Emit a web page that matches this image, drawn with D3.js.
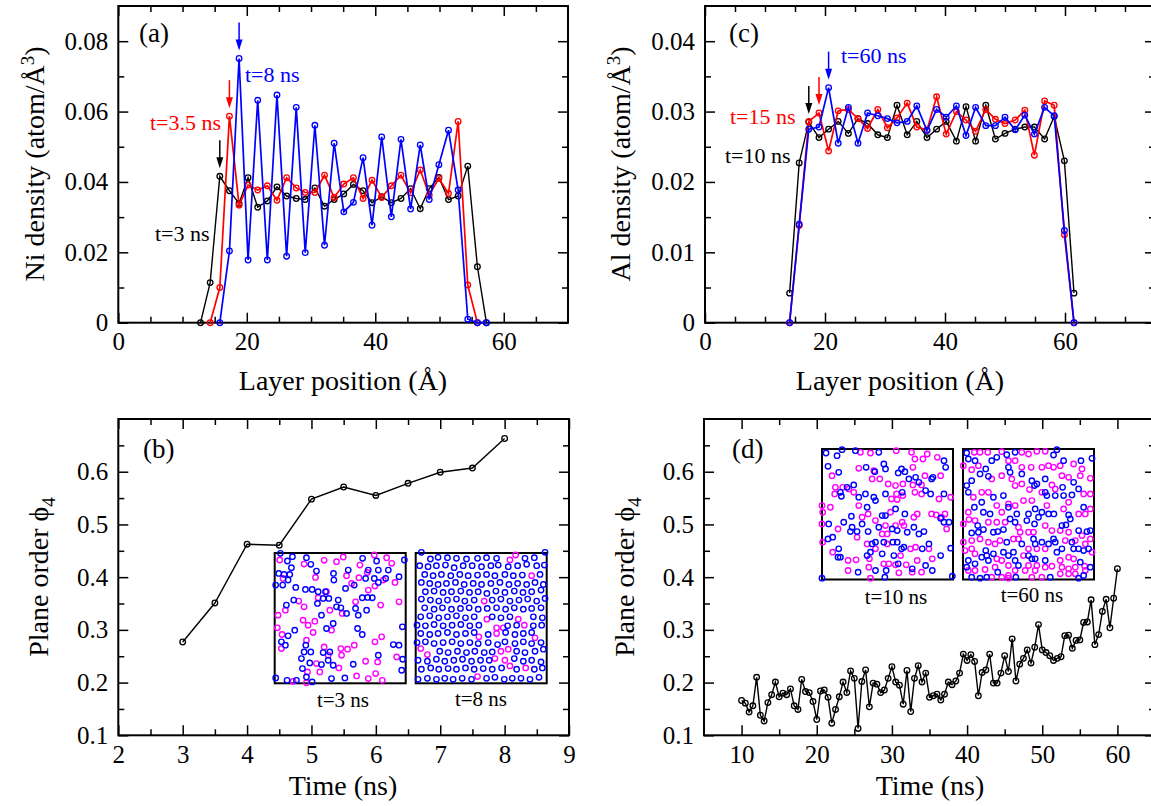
<!DOCTYPE html>
<html>
<head>
<meta charset="utf-8">
<script src="https://cdn.jsdelivr.net/npm/d3@7"></script>
<style>
  body { margin: 0; background: #fff; }
  svg { display: block; font-family: "Liberation Serif", "Times New Roman", serif; }
</style>
</head>
<body>
<svg width="1151" height="806"></svg>
<script>
// ---------- data ----------
// (a) Ni density profiles
const niX = [12.8, 14.3, 15.8, 17.3, 18.8, 20.2, 21.7, 23.2, 24.7, 26.2, 27.7, 29.1, 30.6, 32.1, 33.6, 35.1,
  36.6, 38.1, 39.5, 41.0, 42.5, 44.0, 45.5, 47.0, 48.4, 49.9, 51.4, 52.9, 54.4, 55.9, 57.3];
const niT3 = [0, 0.0114, 0.0416, 0.0375, 0.0339, 0.0412, 0.0328, 0.0346, 0.0386, 0.0360, 0.0353, 0.0350, 0.0383,
  0.0331, 0.0350, 0.0366, 0.0393, 0.0375, 0.0341, 0.0358, 0.0341, 0.0353, 0.0381, 0.0324, 0.0381, 0.0413,
  0.0350, 0.0360, 0.0445, 0.0159, 0];
const niT35 = [null, 0, 0.0100, 0.0587, 0.0334, 0.0391, 0.0377, 0.0389, 0.0348, 0.0412, 0.0383, 0.0370, 0.0370,
  0.0419, 0.0356, 0.0394, 0.0412, 0.0353, 0.0405, 0.0356, 0.0389, 0.0419, 0.0369, 0.0434, 0.0363, 0.0410,
  0.0367, 0.0572, 0.0107, 0, null];
const niT8 = [null, null, 0, 0.0204, 0.0751, 0.0178, 0.0632, 0.0178, 0.0647, 0.0189, 0.0612, 0.0199, 0.0561,
  0.0220, 0.0510, 0.0315, 0.0342, 0.0469, 0.0277, 0.0528, 0.0301, 0.0521, 0.0323, 0.0505, 0.0350, 0.0449,
  0.0547, 0.0377, 0.0010, 0, 0];

// (c) Al density profiles
const alX = [14.1, 15.7, 17.3, 19.0, 20.6, 22.2, 23.9, 25.5, 27.1, 28.8, 30.4, 32.0, 33.7, 35.3, 37.0, 38.6,
  40.2, 41.9, 43.5, 45.1, 46.8, 48.4, 50.0, 51.7, 53.3, 54.9, 56.6, 58.2, 59.9, 61.5];
const alT10 = [0.0042, 0.0227, 0.0285, 0.0263, 0.0275, 0.0286, 0.0269, 0.0290, 0.0283, 0.0267, 0.0263, 0.0309,
  0.0267, 0.0286, 0.0263, 0.0275, 0.0286, 0.0258, 0.0307, 0.0258, 0.0309, 0.0261, 0.0269, 0.0275, 0.0278,
  0.0278, 0.0261, 0.0293, 0.0230, 0.0042];
const alT15 = [0, 0.0138, 0.0286, 0.0298, 0.0244, 0.0301, 0.0303, 0.0290, 0.0276, 0.0303, 0.0277, 0.0291,
  0.0312, 0.0278, 0.0274, 0.0321, 0.0268, 0.0300, 0.0288, 0.0272, 0.0303, 0.0289, 0.0283, 0.0288, 0.0302,
  0.0238, 0.0315, 0.0309, 0.0125, 0];
const alT60 = [0, 0.0140, 0.0275, 0.0278, 0.0334, 0.0255, 0.0306, 0.0255, 0.0298, 0.0294, 0.0290, 0.0284,
  0.0286, 0.0308, 0.0273, 0.0303, 0.0292, 0.0308, 0.0266, 0.0306, 0.0280, 0.0280, 0.0292, 0.0274, 0.0295,
  0.0268, 0.0306, 0.0294, 0.0131, 0];

// (b) plane order vs time, Ni
const timeB = [3, 3.5, 4, 4.5, 5, 5.5, 6, 6.5, 7, 7.5, 8];
const phiB = [0.277, 0.351, 0.4625, 0.4605, 0.548, 0.571, 0.555, 0.578, 0.599, 0.607, 0.663];

// (d) plane order vs time, Al
const timeD = [10, 10.5, 11, 11.5, 12, 12.5, 13, 13.5, 14, 14.5, 15, 15.5, 16, 16.5, 17, 17.5, 18, 18.5, 19, 19.5,
  20, 20.5, 21, 21.5, 22, 22.5, 23, 23.5, 24, 24.5, 25, 25.5, 26, 26.5, 27, 27.5, 28, 28.5, 29, 29.5,
  30, 30.5, 31, 31.5, 32, 32.5, 33, 33.5, 34, 34.5, 35, 35.5, 36, 36.5, 37, 37.5, 38, 38.5, 39, 39.5,
  40, 40.5, 41, 41.5, 42, 42.5, 43, 43.5, 44, 44.5, 45, 45.5, 46, 46.5, 47, 47.5, 48, 48.5, 49, 49.5,
  50, 50.5, 51, 51.5, 52, 52.5, 53, 53.5, 54, 54.5, 55, 55.5, 56, 56.5, 57, 57.5, 58, 58.5, 59, 59.5, 60];
const phiD = [0.166, 0.161, 0.144, 0.156, 0.210, 0.138, 0.127, 0.162, 0.177, 0.201, 0.173, 0.180, 0.177, 0.188,
  0.156, 0.149, 0.206, 0.183, 0.181, 0.164, 0.130, 0.184, 0.186, 0.172, 0.123, 0.149, 0.173, 0.201, 0.181,
  0.222, 0.208, 0.113, 0.202, 0.224, 0.154, 0.199, 0.197, 0.181, 0.186, 0.208, 0.230, 0.201, 0.195, 0.159,
  0.223, 0.145, 0.208, 0.232, 0.201, 0.218, 0.172, 0.175, 0.178, 0.167, 0.178, 0.201, 0.196, 0.203, 0.218,
  0.254, 0.242, 0.253, 0.240, 0.175, 0.219, 0.224, 0.254, 0.199, 0.199, 0.218, 0.251, 0.221, 0.283, 0.203,
  0.235, 0.246, 0.262, 0.237, 0.267, 0.310, 0.262, 0.257, 0.251, 0.242, 0.246, 0.249, 0.289, 0.290, 0.265,
  0.280, 0.281, 0.314, 0.315, 0.357, 0.272, 0.291, 0.335, 0.358, 0.304, 0.360, 0.416];

// tick values / labels
const niXTicks = [0, 20, 40, 60], niXLabels = ['0', '20', '40', '60'];
const niXMinor = [5, 10, 15, 25, 30, 35, 45, 50, 55, 65];
const niYTicks = [0, 0.02, 0.04, 0.06, 0.08], niYLabels = ['0', '0.02', '0.04', '0.06', '0.08'];
const niYMinor = [0.01, 0.03, 0.05, 0.07];
const alXTicks = [0, 20, 40, 60], alXLabels = ['0', '20', '40', '60'];
const alXMinor = [5, 10, 15, 25, 30, 35, 45, 50, 55, 65, 70];
const alYTicks = [0, 0.01, 0.02, 0.03, 0.04], alYLabels = ['0', '0.01', '0.02', '0.03', '0.04'];
const alYMinor = [0.005, 0.015, 0.025, 0.035];
const bXTicks = [2, 3, 4, 5, 6, 7, 8, 9], bXLabels = ['2', '3', '4', '5', '6', '7', '8', '9'];
const bXMinor = [2.5, 3.5, 4.5, 5.5, 6.5, 7.5, 8.5];
const dXTicks = [10, 20, 30, 40, 50, 60], dXLabels = ['10', '20', '30', '40', '50', '60'];
const dXMinor = [15, 25, 35, 45, 55];
const phiTicks = [0.1, 0.2, 0.3, 0.4, 0.5, 0.6], phiLabels = ['0.1', '0.2', '0.3', '0.4', '0.5', '0.6'];
const phiMinor = [0.15, 0.25, 0.35, 0.45, 0.55, 0.65];

// inset snapshots (atom positions in inset units), blue = Ni plane sites, magenta = other
const b3Blue = [[17,1],[38,24],[53,11],[50,44],[95,14],[108,34],[125,54],[176,61],[177,81],[220,51],[263,16],
  [280,51],[305,24],[310,51],[340,51],[388,21],[12,61],[28,64],[45,64],[40,81],[24,96],[3,96],[63,103],[92,109],
  [112,109],[130,116],[145,136],[162,136],[152,116],[190,141],[212,106],[238,96],[272,76],[298,76],[310,88],
  [332,76],[372,71],[57,141],[35,156],[128,151],[185,161],[198,164],[215,181],[242,166],[250,186],[262,134],
  [278,133],[292,134],[275,171],[140,186],[175,211],[155,226],[248,226],[262,244],[40,248],[60,231],[20,266],
  [32,276],[93,276],[88,296],[108,296],[145,298],[165,296],[310,306],[355,274],[372,276],[382,221],[80,316],
  [105,329],[160,321],[235,333],[83,346],[140,334],[175,336],[95,371],[170,376],[210,374],[380,351],[383,318],
  [3,374],[37,381],[112,386],[65,381]];
const b3Mag = [[15,21],[88,33],[148,22],[185,26],[205,12],[255,36],[298,6],[335,14],[350,31],[25,76],[122,73],
  [215,68],[230,91],[252,74],[277,58],[300,99],[360,88],[325,81],[280,111],[155,116],[130,134],[72,144],[88,161],
  [165,171],[202,181],[242,146],[317,156],[372,146],[10,186],[32,171],[85,201],[100,216],[120,204],[170,231],
  [8,224],[22,244],[115,238],[95,261],[20,286],[148,281],[160,306],[198,286],[218,288],[200,306],[238,276],
  [300,266],[320,251],[365,311],[272,324],[308,326],[125,331],[98,356],[135,356],[192,344],[245,368],[280,376],
  [302,361],[322,381],[55,384],[95,388]];
const b8Blue = [[17,-2],[44,18],[67,13],[95,14],[122,16],[152,18],[185,16],[212,14],[242,16],[327,16],[355,14],
  [387,-2],[12,38],[37,41],[62,38],[89,36],[115,44],[142,38],[169,38],[197,41],[225,38],[247,36],[277,41],
  [305,38],[332,34],[362,38],[385,36],[27,64],[52,68],[77,64],[105,68],[132,64],[157,68],[185,66],[212,64],
  [237,68],[267,64],[292,68],[319,66],[372,64],[17,88],[42,91],[67,94],[92,91],[119,88],[145,94],[172,91],
  [197,94],[225,91],[252,88],[279,94],[305,91],[332,94],[357,88],[382,94],[29,116],[55,114],[82,118],[107,116],
  [135,114],[161,118],[187,116],[213,121],[240,114],[267,118],[295,114],[321,118],[347,116],[375,111],[17,138],
  [44,141],[69,144],[95,141],[122,138],[147,144],[175,141],[229,141],[255,138],[282,144],[309,141],[335,138],
  [362,144],[387,136],[27,164],[55,168],[80,164],[107,168],[134,166],[160,164],[187,168],[214,166],[242,164],
  [269,168],[295,164],[322,168],[347,166],[375,164],[15,191],[42,188],[69,194],[95,191],[122,188],[149,194],
  [175,191],[229,191],[255,194],[282,191],[352,191],[379,194],[4,216],[29,218],[55,214],[82,218],[109,216],
  [135,214],[162,218],[189,216],[275,218],[302,216],[352,218],[377,216],[15,241],[42,244],[67,241],[95,238],
  [122,244],[149,241],[175,238],[217,244],[269,238],[297,244],[322,241],[347,238],[4,268],[29,266],[55,271],
  [82,268],[109,266],[135,271],[162,268],[187,271],[217,268],[245,274],[267,266],[297,271],[322,266],[347,271],
  [375,268],[72,294],[97,298],[125,294],[152,298],[177,294],[205,298],[229,296],[302,294],[327,298],[357,294],
  [382,288],[7,321],[35,324],[62,318],[87,324],[114,321],[140,318],[167,324],[194,321],[220,321],[295,316],
  [322,324],[347,321],[375,326],[17,348],[45,344],[69,348],[97,346],[122,348],[149,344],[175,348],[202,346],
  [229,348],[257,344],[302,348],[355,348],[379,344],[7,378],[35,375],[62,378],[87,375],[112,378],[139,375],
  [167,378],[212,375],[237,372],[265,378],[289,375],[315,375],[342,378],[369,372]];
const b8Mag = [[299,6],[282,21],[347,68],[205,144],[213,198],[307,198],[242,224],[262,224],[325,216],[189,251],
  [242,241],[357,254],[15,286],[35,304],[255,294],[277,288],[237,316],[267,321],[282,338],[329,344],[185,370]];
const d10Blue = [[32,32],[65,40],[80,22],[120,25],[152,75],[190,30],[205,65],[210,80],[38,72],[70,90],[178,88],
  [248,92],[268,88],[258,80],[280,110],[300,105],[310,120],[348,110],[352,105],[385,55],[390,75],[330,145],
  [345,155],[385,155],[115,128],[95,135],[75,150],[78,162],[130,165],[150,155],[175,165],[180,175],[210,155],
  [260,150],[155,195],[240,200],[268,215],[200,220],[210,220],[108,222],[85,240],[40,245],[38,290],[52,285],
  [105,268],[125,268],[110,255],[140,245],[158,268],[190,255],[230,260],[245,265],[275,270],[295,255],[310,275],
  [325,268],[232,300],[245,300],[265,315],[320,320],[340,305],[375,228],[385,240],[400,240],[170,305],[180,300],
  [165,330],[155,340],[70,320],[68,345],[75,345],[200,335],[205,300],[235,340],[248,365],[258,320],[330,370],
  [375,340],[405,318],[180,385],[212,385],[128,390],[208,405],[20,408],[410,402],[290,380],[350,385]];
const d10Mag = [[135,30],[165,32],[130,78],[175,85],[242,25],[288,30],[298,50],[292,75],[322,50],[335,35],
  [365,45],[375,100],[405,165],[50,100],[60,135],[58,155],[82,135],[100,140],[115,150],[170,110],[193,110],
  [218,125],[240,130],[262,125],[292,128],[318,128],[328,100],[243,155],[262,160],[228,170],[245,172],[298,150],
  [318,155],[370,170],[20,190],[45,195],[22,210],[130,190],[158,215],[180,235],[225,210],[260,240],[265,250],
  [210,250],[240,250],[295,225],[305,215],[348,215],[362,218],[388,215],[393,260],[20,245],[68,260],[140,225],
  [22,300],[52,330],[125,285],[155,305],[180,320],[215,275],[200,275],[215,305],[255,340],[285,320],[300,315],
  [305,355],[340,320],[350,350],[98,355],[122,353],[162,350],[160,375],[205,365],[220,365],[240,368],[272,368],
  [290,390],[318,390],[98,385],[165,408],[250,392],[378,225]];
const d60Blue = [[455,32],[460,50],[480,55],[470,115],[455,130],[495,95],[512,80],[520,102],[530,55],[545,45],
  [575,37],[600,30],[580,75],[585,90],[620,95],[650,115],[658,130],[665,125],[690,110],[715,38],[725,22],[745,55],
  [797,55],[830,48],[790,140],[775,120],[742,135],[770,158],[805,195],[720,160],[745,160],[695,160],[690,150],
  [680,210],[660,200],[640,215],[605,215],[580,195],[565,160],[535,165],[500,180],[525,215],[505,210],[460,150],
  [478,195],[488,250],[470,272],[490,270],[505,262],[535,270],[548,268],[565,262],[585,230],[600,240],[635,235],
  [658,245],[670,225],[700,215],[716,215],[740,250],[752,248],[765,230],[760,218],[790,265],[815,268],[825,265],
  [775,320],[790,320],[805,325],[820,320],[740,320],[770,300],[720,300],[700,305],[715,290],[680,300],[660,305],
  [655,290],[640,340],[650,350],[620,305],[575,300],[512,325],[515,340],[520,355],[535,335],[500,345],[460,355],
  [480,365],[455,375],[470,405],[495,408],[515,405],[548,390],[600,355],[610,370],[660,350],[690,355],[725,330],
  [795,360],[825,375],[805,400],[790,408],[705,405],[602,405],[595,330],[565,330],[580,340]];
const d60Mag = [[478,30],[495,30],[518,30],[560,28],[580,55],[600,55],[620,30],[640,35],[665,27],[690,27],
  [620,75],[648,75],[680,75],[700,70],[715,75],[735,70],[775,65],[800,80],[825,108],[445,70],[470,82],[490,70],
  [530,110],[560,100],[590,110],[600,130],[620,125],[643,142],[680,150],[710,128],[720,140],[760,105],[740,100],
  [795,100],[825,155],[805,155],[460,210],[445,245],[462,232],[500,150],[475,165],[520,150],[545,190],[560,210],
  [580,185],[600,190],[625,175],[650,175],[695,190],[745,200],[760,180],[790,215],[810,215],[825,200],[480,235],
  [520,240],[545,240],[570,240],[610,255],[615,270],[640,270],[655,270],[690,250],[710,265],[735,265],[760,270],
  [780,295],[800,280],[825,290],[445,300],[470,295],[495,290],[520,300],[540,305],[555,295],[595,290],[610,290],
  [640,320],[665,320],[690,320],[750,295],[760,345],[775,350],[810,305],[830,330],[450,325],[470,320],[480,335],
  [545,350],[560,355],[580,370],[625,340],[640,370],[665,370],[690,375],[710,372],[735,355],[740,375],[760,380],
  [780,375],[808,372],[460,385],[480,385],[510,382],[540,375],[560,405],[580,400],[600,385],[630,385],[660,385],
  [735,395],[760,395],[780,395],[810,385],[530,405],[580,408],[650,405],[680,405]];

// ---------- drawing ----------
const svg = d3.select('svg');
const BLUE = '#0000ff', RED = '#ff0000', MAG = '#ff00ff';

function frame(box, xDom, yDom, xt, xl, xm, yt, yl, ym) {
  const x = d3.scaleLinear().domain(xDom).range([box.l, box.r]);
  const y = d3.scaleLinear().domain(yDom).range([box.b, box.t]);
  const g = svg.append('g');
  const put = (axis, tr, vals, size, labels) => {
    const a = g.append('g').attr('transform', tr)
      .call(axis.tickValues(vals).tickSizeInner(size).tickSizeOuter(0).tickPadding(10)
        .tickFormat(labels ? (d, i) => labels[i] : () => ''));
    a.attr('font-family', null).attr('font-size', null);
    a.select('.domain').remove();
    a.selectAll('line').attr('stroke', '#000').attr('stroke-width', 1.5);
    a.selectAll('text').attr('font-size', 25).attr('fill', '#000');
  };
  put(d3.axisBottom(x), `translate(0,${box.b})`, xt, -10, xl);
  put(d3.axisBottom(x), `translate(0,${box.b})`, xm, -6);
  put(d3.axisTop(x), `translate(0,${box.t})`, xt, -10);
  put(d3.axisTop(x), `translate(0,${box.t})`, xm, -6);
  put(d3.axisLeft(y), `translate(${box.l},0)`, yt, -10, yl);
  put(d3.axisLeft(y), `translate(${box.l},0)`, ym, -6);
  put(d3.axisRight(y), `translate(${box.r},0)`, yt, -10);
  put(d3.axisRight(y), `translate(${box.r},0)`, ym, -6);
  g.append('rect').attr('x', box.l).attr('y', box.t)
    .attr('width', box.r - box.l).attr('height', box.b - box.t)
    .attr('fill', 'none').attr('stroke', '#000').attr('stroke-width', 2);
  return { g, x, y };
}

function series(p, xs, ys, color, w) {
  const pts = xs.map((v, i) => [v, ys[i]]).filter(d => d[1] != null);
  p.g.append('path').datum(pts)
    .attr('fill', 'none').attr('stroke', color).attr('stroke-width', w)
    .attr('d', d3.line().x(d => p.x(d[0])).y(d => p.y(d[1])));
  p.g.selectAll(null).data(pts).enter().append('circle')
    .attr('cx', d => p.x(d[0])).attr('cy', d => p.y(d[1])).attr('r', 2.8)
    .attr('fill', 'none').attr('stroke', color).attr('stroke-width', 1.3);
}

function arrow(p, xv, yv, color) {
  const cx = p.x(xv), tip = p.y(yv) - 8;
  p.g.append('line').attr('x1', cx).attr('x2', cx).attr('y1', tip - 28).attr('y2', tip - 8)
    .attr('stroke', color).attr('stroke-width', 1.5);
  p.g.append('path').attr('d', `M${cx - 3.5},${tip - 11}L${cx + 3.5},${tip - 11}L${cx},${tip}Z`)
    .attr('fill', color);
}

function text(x, y, s, color, size, anchor) {
  return svg.append('text').attr('x', x).attr('y', y).attr('fill', color || '#000')
    .attr('font-size', size).attr('text-anchor', anchor || 'start').text(s);
}

function ytitle(x, y, parts) {
  const t = svg.append('text').attr('transform', `translate(${x},${y}) rotate(-90)`)
    .attr('text-anchor', 'middle').attr('font-size', 28);
  parts.forEach(([s, dy, fs]) => t.append('tspan').attr('dy', dy).attr('font-size', fs).text(s));
}

function inset(box, xDom, yDom, blue, mag) {
  const sx = d3.scaleLinear().domain(xDom).range([box.l, box.l + box.w]);
  const sy = d3.scaleLinear().domain(yDom).range([box.t, box.t + box.h]);
  const g = svg.append('g');
  g.append('rect').attr('x', box.l).attr('y', box.t).attr('width', box.w).attr('height', box.h)
    .attr('fill', '#fff').attr('stroke', '#000').attr('stroke-width', 2);
  [[mag, MAG], [blue, BLUE]].forEach(([arr, c]) => {
    g.selectAll(null).data(arr).enter().append('circle')
      .attr('cx', d => sx(d[0])).attr('cy', d => sy(d[1])).attr('r', 2.7)
      .attr('fill', 'none').attr('stroke', c).attr('stroke-width', 1.4);
  });
}

// (a)
const pa = frame({ l: 118.3, r: 568, t: 6, b: 322.7 }, [0, 70], [0, 0.09],
  niXTicks, niXLabels, niXMinor, niYTicks, niYLabels, niYMinor);
series(pa, niX, niT3, '#000', 1.4);
series(pa, niX, niT35, RED, 1.7);
series(pa, niX, niT8, BLUE, 1.7);
arrow(pa, niX[2], niT3[2], '#000');
arrow(pa, niX[3], niT35[3], RED);
arrow(pa, niX[4], niT8[4], BLUE);
text(139, 42, '(a)', '#000', 27);
text(245, 82, 't=8 ns', BLUE, 22);
text(150, 130, 't=3.5 ns', RED, 22);
text(155, 241, 't=3 ns', '#000', 22);
text(343, 390, 'Layer position (Å)', '#000', 28, 'middle');
ytitle(44, 164, [['Ni density (atom/Å', 0, 28], ['3', -10, 19], [')', 10, 28]]);

// (c)
const pc = frame({ l: 705, r: 1155, t: 6, b: 322.7 }, [0, 75], [0, 0.045],
  alXTicks, alXLabels, alXMinor, alYTicks, alYLabels, alYMinor);
series(pc, alX, alT10, '#000', 1.4);
series(pc, alX, alT15, RED, 1.7);
series(pc, alX, alT60, BLUE, 1.7);
arrow(pc, alX[2], alT10[2], '#000');
arrow(pc, alX[3], alT15[3], RED);
arrow(pc, alX[4], alT60[4], BLUE);
text(729, 42, '(c)', '#000', 27);
text(841, 63, 't=60 ns', BLUE, 22);
text(730, 124, 't=15 ns', RED, 22);
text(725, 163, 't=10 ns', '#000', 22);
text(900, 390, 'Layer position (Å)', '#000', 28, 'middle');
ytitle(630, 164, [['Al density (atom/Å', 0, 28], ['3', -10, 19], [')', 10, 28]]);

// (b)
const pb = frame({ l: 118.3, r: 569, t: 419, b: 735.3 }, [2, 9], [0.1, 0.7],
  bXTicks, bXLabels, bXMinor, phiTicks, phiLabels, phiMinor);
series(pb, timeB, phiB, '#000', 1.4);
text(143, 458, '(b)', '#000', 27);
text(343, 795, 'Time (ns)', '#000', 28, 'middle');
ytitle(48, 577, [['Plane order ϕ', 0, 28], ['4', 7, 19]]);
inset({ l: 274.7, t: 553, w: 131, h: 130.3 }, [0, 392], [0, 390], b3Blue, b3Mag);
inset({ l: 415.7, t: 553, w: 131, h: 130.3 }, [0, 392], [0, 390], b8Blue, b8Mag);
text(343, 707, 't=3 ns', '#000', 21, 'middle');
text(481, 706, 't=8 ns', '#000', 21, 'middle');

// (d)
const pd = frame({ l: 704, r: 1155, t: 419, b: 735.3 }, [5, 65], [0.1, 0.7],
  dXTicks, dXLabels, dXMinor, phiTicks, phiLabels, phiMinor);
series(pd, timeD, phiD, '#000', 1.4);
text(732, 458, '(d)', '#000', 27);
text(930, 795, 'Time (ns)', '#000', 28, 'middle');
ytitle(634, 577, [['Plane order ϕ', 0, 28], ['4', 7, 19]]);
inset({ l: 822, t: 449, w: 131, h: 130.5 }, [20, 412], [20, 412], d10Blue, d10Mag);
inset({ l: 963, t: 449, w: 131, h: 130.5 }, [444, 836], [20, 412], d60Blue, d60Mag);
text(896, 604, 't=10 ns', '#000', 21, 'middle');
text(1032, 602, 't=60 ns', '#000', 21, 'middle');
</script>
</body>
</html>
